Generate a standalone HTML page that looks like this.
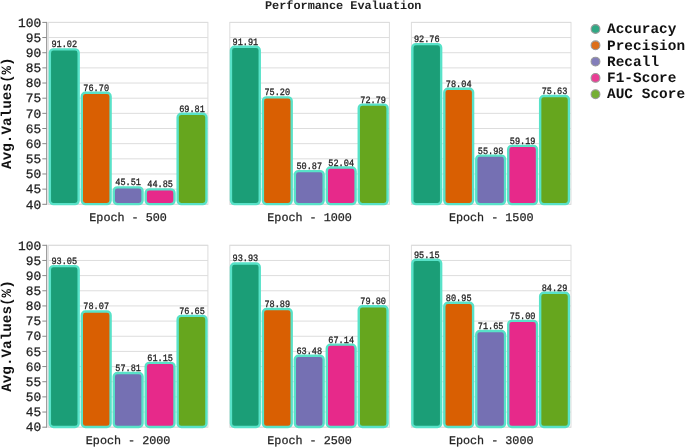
<!DOCTYPE html>
<html><head><meta charset="utf-8"><title>Performance Evaluation</title>
<style>html,body{margin:0;padding:0;background:#fff}svg{display:block}text{font-family:"Liberation Mono",monospace}svg{transform:translateZ(0)}text{text-rendering:geometricPrecision}.t{font-size:12.85px;fill:#222;stroke:#222;stroke-width:0.25px}.v{font-size:9.8px;fill:#222;stroke:#222;stroke-width:0.3px}.x{font-size:11.75px;fill:#222;stroke:#222;stroke-width:0.25px}.l{font-size:14.4px;letter-spacing:0.05px;font-weight:bold;fill:#111}.y{font-size:14.3px;font-weight:bold;fill:#111}</style></head><body>
<svg width="685" height="447" viewBox="0 0 685 447">
<text x="343.2" y="8.6" text-anchor="middle" style="font-size:11.85px;font-weight:bold;fill:#222">Performance Evaluation</text>
<g transform="translate(48.3,22.4)">
<line x1="0" x2="159.6" y1="0.00" y2="0.00" stroke="#ddd" stroke-width="1"/>
<line x1="0" x2="159.6" y1="15.16" y2="15.16" stroke="#ddd" stroke-width="1"/>
<line x1="0" x2="159.6" y1="30.32" y2="30.32" stroke="#ddd" stroke-width="1"/>
<line x1="0" x2="159.6" y1="45.48" y2="45.48" stroke="#ddd" stroke-width="1"/>
<line x1="0" x2="159.6" y1="60.63" y2="60.63" stroke="#ddd" stroke-width="1"/>
<line x1="0" x2="159.6" y1="75.79" y2="75.79" stroke="#ddd" stroke-width="1"/>
<line x1="0" x2="159.6" y1="90.95" y2="90.95" stroke="#ddd" stroke-width="1"/>
<line x1="0" x2="159.6" y1="106.11" y2="106.11" stroke="#ddd" stroke-width="1"/>
<line x1="0" x2="159.6" y1="121.27" y2="121.27" stroke="#ddd" stroke-width="1"/>
<line x1="0" x2="159.6" y1="136.43" y2="136.43" stroke="#ddd" stroke-width="1"/>
<line x1="0" x2="159.6" y1="151.58" y2="151.58" stroke="#ddd" stroke-width="1"/>
<line x1="0" x2="159.6" y1="166.74" y2="166.74" stroke="#ddd" stroke-width="1"/>
<line x1="0" x2="159.6" y1="181.90" y2="181.90" stroke="#ddd" stroke-width="1"/>
<rect x="0" y="0" width="159.6" height="181.9" fill="none" stroke="#ddd" stroke-width="1"/>
<rect x="1.55" y="26.97" width="28.80" height="154.73" rx="3.6" ry="3.6" fill="#1b9e77" stroke="#58e2c8" stroke-width="2.4"/>
<text class="v" transform="translate(15.95,24.92) scale(0.875,1)" text-anchor="middle">91.02</text>
<rect x="33.50" y="70.39" width="28.80" height="111.31" rx="3.6" ry="3.6" fill="#d95f02" stroke="#58e2c8" stroke-width="2.4"/>
<text class="v" transform="translate(47.90,68.34) scale(0.875,1)" text-anchor="middle">76.70</text>
<rect x="65.45" y="164.95" width="28.80" height="16.75" rx="3.6" ry="3.6" fill="#7570b3" stroke="#58e2c8" stroke-width="2.4"/>
<text class="v" transform="translate(79.85,162.90) scale(0.875,1)" text-anchor="middle">45.51</text>
<rect x="97.40" y="166.95" width="28.80" height="14.75" rx="3.6" ry="3.6" fill="#e7298a" stroke="#58e2c8" stroke-width="2.4"/>
<text class="v" transform="translate(111.80,164.90) scale(0.875,1)" text-anchor="middle">44.85</text>
<rect x="129.35" y="91.28" width="28.80" height="90.42" rx="3.6" ry="3.6" fill="#66a61e" stroke="#58e2c8" stroke-width="2.4"/>
<text class="v" transform="translate(143.75,89.23) scale(0.875,1)" text-anchor="middle">69.81</text>
<line x1="-1.6" x2="-1.6" y1="-0.5" y2="182.4" stroke="#888" stroke-width="1"/>
<line x1="-6" x2="-1.6" y1="0.00" y2="0.00" stroke="#888" stroke-width="1"/>
<text class="t" x="-7.2" y="4.25" text-anchor="end">100</text>
<line x1="-6" x2="-1.6" y1="15.16" y2="15.16" stroke="#888" stroke-width="1"/>
<text class="t" x="-7.2" y="19.41" text-anchor="end">95</text>
<line x1="-6" x2="-1.6" y1="30.32" y2="30.32" stroke="#888" stroke-width="1"/>
<text class="t" x="-7.2" y="34.57" text-anchor="end">90</text>
<line x1="-6" x2="-1.6" y1="45.48" y2="45.48" stroke="#888" stroke-width="1"/>
<text class="t" x="-7.2" y="49.73" text-anchor="end">85</text>
<line x1="-6" x2="-1.6" y1="60.63" y2="60.63" stroke="#888" stroke-width="1"/>
<text class="t" x="-7.2" y="64.88" text-anchor="end">80</text>
<line x1="-6" x2="-1.6" y1="75.79" y2="75.79" stroke="#888" stroke-width="1"/>
<text class="t" x="-7.2" y="80.04" text-anchor="end">75</text>
<line x1="-6" x2="-1.6" y1="90.95" y2="90.95" stroke="#888" stroke-width="1"/>
<text class="t" x="-7.2" y="95.20" text-anchor="end">70</text>
<line x1="-6" x2="-1.6" y1="106.11" y2="106.11" stroke="#888" stroke-width="1"/>
<text class="t" x="-7.2" y="110.36" text-anchor="end">65</text>
<line x1="-6" x2="-1.6" y1="121.27" y2="121.27" stroke="#888" stroke-width="1"/>
<text class="t" x="-7.2" y="125.52" text-anchor="end">60</text>
<line x1="-6" x2="-1.6" y1="136.43" y2="136.43" stroke="#888" stroke-width="1"/>
<text class="t" x="-7.2" y="140.68" text-anchor="end">55</text>
<line x1="-6" x2="-1.6" y1="151.58" y2="151.58" stroke="#888" stroke-width="1"/>
<text class="t" x="-7.2" y="155.83" text-anchor="end">50</text>
<line x1="-6" x2="-1.6" y1="166.74" y2="166.74" stroke="#888" stroke-width="1"/>
<text class="t" x="-7.2" y="170.99" text-anchor="end">45</text>
<line x1="-6" x2="-1.6" y1="181.90" y2="181.90" stroke="#888" stroke-width="1"/>
<text class="t" x="-7.2" y="186.15" text-anchor="end">40</text>
<text class="y" transform="translate(-37.0,90.75) rotate(-90)" text-anchor="middle">Avg.Values(%)</text>
<text class="x" x="79.80" y="199.00" text-anchor="middle">Epoch - 500</text>
</g>
<g transform="translate(229.8,22.4)">
<line x1="0" x2="159.6" y1="0.00" y2="0.00" stroke="#ddd" stroke-width="1"/>
<line x1="0" x2="159.6" y1="15.16" y2="15.16" stroke="#ddd" stroke-width="1"/>
<line x1="0" x2="159.6" y1="30.32" y2="30.32" stroke="#ddd" stroke-width="1"/>
<line x1="0" x2="159.6" y1="45.48" y2="45.48" stroke="#ddd" stroke-width="1"/>
<line x1="0" x2="159.6" y1="60.63" y2="60.63" stroke="#ddd" stroke-width="1"/>
<line x1="0" x2="159.6" y1="75.79" y2="75.79" stroke="#ddd" stroke-width="1"/>
<line x1="0" x2="159.6" y1="90.95" y2="90.95" stroke="#ddd" stroke-width="1"/>
<line x1="0" x2="159.6" y1="106.11" y2="106.11" stroke="#ddd" stroke-width="1"/>
<line x1="0" x2="159.6" y1="121.27" y2="121.27" stroke="#ddd" stroke-width="1"/>
<line x1="0" x2="159.6" y1="136.43" y2="136.43" stroke="#ddd" stroke-width="1"/>
<line x1="0" x2="159.6" y1="151.58" y2="151.58" stroke="#ddd" stroke-width="1"/>
<line x1="0" x2="159.6" y1="166.74" y2="166.74" stroke="#ddd" stroke-width="1"/>
<line x1="0" x2="159.6" y1="181.90" y2="181.90" stroke="#ddd" stroke-width="1"/>
<rect x="0" y="0" width="159.6" height="181.9" fill="none" stroke="#ddd" stroke-width="1"/>
<rect x="1.15" y="24.28" width="28.80" height="157.42" rx="3.6" ry="3.6" fill="#1b9e77" stroke="#58e2c8" stroke-width="2.4"/>
<text class="v" transform="translate(15.55,22.23) scale(0.875,1)" text-anchor="middle">91.91</text>
<rect x="33.10" y="74.94" width="28.80" height="106.76" rx="3.6" ry="3.6" fill="#d95f02" stroke="#58e2c8" stroke-width="2.4"/>
<text class="v" transform="translate(47.50,72.89) scale(0.875,1)" text-anchor="middle">75.20</text>
<rect x="65.05" y="148.70" width="28.80" height="33.00" rx="3.6" ry="3.6" fill="#7570b3" stroke="#58e2c8" stroke-width="2.4"/>
<text class="v" transform="translate(79.45,146.65) scale(0.875,1)" text-anchor="middle">50.87</text>
<rect x="97.00" y="145.15" width="28.80" height="36.55" rx="3.6" ry="3.6" fill="#e7298a" stroke="#58e2c8" stroke-width="2.4"/>
<text class="v" transform="translate(111.40,143.10) scale(0.875,1)" text-anchor="middle">52.04</text>
<rect x="128.95" y="82.24" width="28.80" height="99.46" rx="3.6" ry="3.6" fill="#66a61e" stroke="#58e2c8" stroke-width="2.4"/>
<text class="v" transform="translate(143.35,80.19) scale(0.875,1)" text-anchor="middle">72.79</text>
<text class="x" x="79.80" y="199.00" text-anchor="middle">Epoch - 1000</text>
</g>
<g transform="translate(411.4,22.4)">
<line x1="0" x2="159.6" y1="0.00" y2="0.00" stroke="#ddd" stroke-width="1"/>
<line x1="0" x2="159.6" y1="15.16" y2="15.16" stroke="#ddd" stroke-width="1"/>
<line x1="0" x2="159.6" y1="30.32" y2="30.32" stroke="#ddd" stroke-width="1"/>
<line x1="0" x2="159.6" y1="45.48" y2="45.48" stroke="#ddd" stroke-width="1"/>
<line x1="0" x2="159.6" y1="60.63" y2="60.63" stroke="#ddd" stroke-width="1"/>
<line x1="0" x2="159.6" y1="75.79" y2="75.79" stroke="#ddd" stroke-width="1"/>
<line x1="0" x2="159.6" y1="90.95" y2="90.95" stroke="#ddd" stroke-width="1"/>
<line x1="0" x2="159.6" y1="106.11" y2="106.11" stroke="#ddd" stroke-width="1"/>
<line x1="0" x2="159.6" y1="121.27" y2="121.27" stroke="#ddd" stroke-width="1"/>
<line x1="0" x2="159.6" y1="136.43" y2="136.43" stroke="#ddd" stroke-width="1"/>
<line x1="0" x2="159.6" y1="151.58" y2="151.58" stroke="#ddd" stroke-width="1"/>
<line x1="0" x2="159.6" y1="166.74" y2="166.74" stroke="#ddd" stroke-width="1"/>
<line x1="0" x2="159.6" y1="181.90" y2="181.90" stroke="#ddd" stroke-width="1"/>
<rect x="0" y="0" width="159.6" height="181.9" fill="none" stroke="#ddd" stroke-width="1"/>
<rect x="0.95" y="21.70" width="28.80" height="160.00" rx="3.6" ry="3.6" fill="#1b9e77" stroke="#58e2c8" stroke-width="2.4"/>
<text class="v" transform="translate(15.35,19.65) scale(0.875,1)" text-anchor="middle">92.76</text>
<rect x="32.90" y="66.33" width="28.80" height="115.37" rx="3.6" ry="3.6" fill="#d95f02" stroke="#58e2c8" stroke-width="2.4"/>
<text class="v" transform="translate(47.30,64.28) scale(0.875,1)" text-anchor="middle">78.04</text>
<rect x="64.85" y="133.20" width="28.80" height="48.50" rx="3.6" ry="3.6" fill="#7570b3" stroke="#58e2c8" stroke-width="2.4"/>
<text class="v" transform="translate(79.25,131.15) scale(0.875,1)" text-anchor="middle">55.98</text>
<rect x="96.80" y="123.47" width="28.80" height="58.23" rx="3.6" ry="3.6" fill="#e7298a" stroke="#58e2c8" stroke-width="2.4"/>
<text class="v" transform="translate(111.20,121.42) scale(0.875,1)" text-anchor="middle">59.19</text>
<rect x="128.75" y="73.63" width="28.80" height="108.07" rx="3.6" ry="3.6" fill="#66a61e" stroke="#58e2c8" stroke-width="2.4"/>
<text class="v" transform="translate(143.15,71.58) scale(0.875,1)" text-anchor="middle">75.63</text>
<text class="x" x="79.80" y="199.00" text-anchor="middle">Epoch - 1500</text>
</g>
<g transform="translate(48.3,245.3)">
<line x1="0" x2="159.6" y1="0.00" y2="0.00" stroke="#ddd" stroke-width="1"/>
<line x1="0" x2="159.6" y1="15.16" y2="15.16" stroke="#ddd" stroke-width="1"/>
<line x1="0" x2="159.6" y1="30.32" y2="30.32" stroke="#ddd" stroke-width="1"/>
<line x1="0" x2="159.6" y1="45.48" y2="45.48" stroke="#ddd" stroke-width="1"/>
<line x1="0" x2="159.6" y1="60.63" y2="60.63" stroke="#ddd" stroke-width="1"/>
<line x1="0" x2="159.6" y1="75.79" y2="75.79" stroke="#ddd" stroke-width="1"/>
<line x1="0" x2="159.6" y1="90.95" y2="90.95" stroke="#ddd" stroke-width="1"/>
<line x1="0" x2="159.6" y1="106.11" y2="106.11" stroke="#ddd" stroke-width="1"/>
<line x1="0" x2="159.6" y1="121.27" y2="121.27" stroke="#ddd" stroke-width="1"/>
<line x1="0" x2="159.6" y1="136.43" y2="136.43" stroke="#ddd" stroke-width="1"/>
<line x1="0" x2="159.6" y1="151.58" y2="151.58" stroke="#ddd" stroke-width="1"/>
<line x1="0" x2="159.6" y1="166.74" y2="166.74" stroke="#ddd" stroke-width="1"/>
<line x1="0" x2="159.6" y1="181.90" y2="181.90" stroke="#ddd" stroke-width="1"/>
<rect x="0" y="0" width="159.6" height="181.9" fill="none" stroke="#ddd" stroke-width="1"/>
<rect x="1.55" y="20.82" width="28.80" height="160.88" rx="3.6" ry="3.6" fill="#1b9e77" stroke="#58e2c8" stroke-width="2.4"/>
<text class="v" transform="translate(15.95,18.77) scale(0.875,1)" text-anchor="middle">93.05</text>
<rect x="33.50" y="66.23" width="28.80" height="115.47" rx="3.6" ry="3.6" fill="#d95f02" stroke="#58e2c8" stroke-width="2.4"/>
<text class="v" transform="translate(47.90,64.18) scale(0.875,1)" text-anchor="middle">78.07</text>
<rect x="65.45" y="127.66" width="28.80" height="54.04" rx="3.6" ry="3.6" fill="#7570b3" stroke="#58e2c8" stroke-width="2.4"/>
<text class="v" transform="translate(79.85,125.61) scale(0.875,1)" text-anchor="middle">57.81</text>
<rect x="97.40" y="117.53" width="28.80" height="64.17" rx="3.6" ry="3.6" fill="#e7298a" stroke="#58e2c8" stroke-width="2.4"/>
<text class="v" transform="translate(111.80,115.48) scale(0.875,1)" text-anchor="middle">61.15</text>
<rect x="129.35" y="70.54" width="28.80" height="111.16" rx="3.6" ry="3.6" fill="#66a61e" stroke="#58e2c8" stroke-width="2.4"/>
<text class="v" transform="translate(143.75,68.49) scale(0.875,1)" text-anchor="middle">76.65</text>
<line x1="-1.6" x2="-1.6" y1="-0.5" y2="182.4" stroke="#888" stroke-width="1"/>
<line x1="-6" x2="-1.6" y1="0.00" y2="0.00" stroke="#888" stroke-width="1"/>
<text class="t" x="-7.2" y="4.25" text-anchor="end">100</text>
<line x1="-6" x2="-1.6" y1="15.16" y2="15.16" stroke="#888" stroke-width="1"/>
<text class="t" x="-7.2" y="19.41" text-anchor="end">95</text>
<line x1="-6" x2="-1.6" y1="30.32" y2="30.32" stroke="#888" stroke-width="1"/>
<text class="t" x="-7.2" y="34.57" text-anchor="end">90</text>
<line x1="-6" x2="-1.6" y1="45.48" y2="45.48" stroke="#888" stroke-width="1"/>
<text class="t" x="-7.2" y="49.73" text-anchor="end">85</text>
<line x1="-6" x2="-1.6" y1="60.63" y2="60.63" stroke="#888" stroke-width="1"/>
<text class="t" x="-7.2" y="64.88" text-anchor="end">80</text>
<line x1="-6" x2="-1.6" y1="75.79" y2="75.79" stroke="#888" stroke-width="1"/>
<text class="t" x="-7.2" y="80.04" text-anchor="end">75</text>
<line x1="-6" x2="-1.6" y1="90.95" y2="90.95" stroke="#888" stroke-width="1"/>
<text class="t" x="-7.2" y="95.20" text-anchor="end">70</text>
<line x1="-6" x2="-1.6" y1="106.11" y2="106.11" stroke="#888" stroke-width="1"/>
<text class="t" x="-7.2" y="110.36" text-anchor="end">65</text>
<line x1="-6" x2="-1.6" y1="121.27" y2="121.27" stroke="#888" stroke-width="1"/>
<text class="t" x="-7.2" y="125.52" text-anchor="end">60</text>
<line x1="-6" x2="-1.6" y1="136.43" y2="136.43" stroke="#888" stroke-width="1"/>
<text class="t" x="-7.2" y="140.68" text-anchor="end">55</text>
<line x1="-6" x2="-1.6" y1="151.58" y2="151.58" stroke="#888" stroke-width="1"/>
<text class="t" x="-7.2" y="155.83" text-anchor="end">50</text>
<line x1="-6" x2="-1.6" y1="166.74" y2="166.74" stroke="#888" stroke-width="1"/>
<text class="t" x="-7.2" y="170.99" text-anchor="end">45</text>
<line x1="-6" x2="-1.6" y1="181.90" y2="181.90" stroke="#888" stroke-width="1"/>
<text class="t" x="-7.2" y="186.15" text-anchor="end">40</text>
<text class="y" transform="translate(-37.0,90.75) rotate(-90)" text-anchor="middle">Avg.Values(%)</text>
<text class="x" x="79.80" y="199.00" text-anchor="middle">Epoch - 2000</text>
</g>
<g transform="translate(229.8,245.3)">
<line x1="0" x2="159.6" y1="0.00" y2="0.00" stroke="#ddd" stroke-width="1"/>
<line x1="0" x2="159.6" y1="15.16" y2="15.16" stroke="#ddd" stroke-width="1"/>
<line x1="0" x2="159.6" y1="30.32" y2="30.32" stroke="#ddd" stroke-width="1"/>
<line x1="0" x2="159.6" y1="45.48" y2="45.48" stroke="#ddd" stroke-width="1"/>
<line x1="0" x2="159.6" y1="60.63" y2="60.63" stroke="#ddd" stroke-width="1"/>
<line x1="0" x2="159.6" y1="75.79" y2="75.79" stroke="#ddd" stroke-width="1"/>
<line x1="0" x2="159.6" y1="90.95" y2="90.95" stroke="#ddd" stroke-width="1"/>
<line x1="0" x2="159.6" y1="106.11" y2="106.11" stroke="#ddd" stroke-width="1"/>
<line x1="0" x2="159.6" y1="121.27" y2="121.27" stroke="#ddd" stroke-width="1"/>
<line x1="0" x2="159.6" y1="136.43" y2="136.43" stroke="#ddd" stroke-width="1"/>
<line x1="0" x2="159.6" y1="151.58" y2="151.58" stroke="#ddd" stroke-width="1"/>
<line x1="0" x2="159.6" y1="166.74" y2="166.74" stroke="#ddd" stroke-width="1"/>
<line x1="0" x2="159.6" y1="181.90" y2="181.90" stroke="#ddd" stroke-width="1"/>
<rect x="0" y="0" width="159.6" height="181.9" fill="none" stroke="#ddd" stroke-width="1"/>
<rect x="1.15" y="18.15" width="28.80" height="163.55" rx="3.6" ry="3.6" fill="#1b9e77" stroke="#58e2c8" stroke-width="2.4"/>
<text class="v" transform="translate(15.55,16.10) scale(0.875,1)" text-anchor="middle">93.93</text>
<rect x="33.10" y="63.75" width="28.80" height="117.95" rx="3.6" ry="3.6" fill="#d95f02" stroke="#58e2c8" stroke-width="2.4"/>
<text class="v" transform="translate(47.50,61.70) scale(0.875,1)" text-anchor="middle">78.89</text>
<rect x="65.05" y="110.47" width="28.80" height="71.23" rx="3.6" ry="3.6" fill="#7570b3" stroke="#58e2c8" stroke-width="2.4"/>
<text class="v" transform="translate(79.45,108.42) scale(0.875,1)" text-anchor="middle">63.48</text>
<rect x="97.00" y="99.37" width="28.80" height="82.33" rx="3.6" ry="3.6" fill="#e7298a" stroke="#58e2c8" stroke-width="2.4"/>
<text class="v" transform="translate(111.40,97.32) scale(0.875,1)" text-anchor="middle">67.14</text>
<rect x="128.95" y="60.99" width="28.80" height="120.71" rx="3.6" ry="3.6" fill="#66a61e" stroke="#58e2c8" stroke-width="2.4"/>
<text class="v" transform="translate(143.35,58.94) scale(0.875,1)" text-anchor="middle">79.80</text>
<text class="x" x="79.80" y="199.00" text-anchor="middle">Epoch - 2500</text>
</g>
<g transform="translate(411.4,245.3)">
<line x1="0" x2="159.6" y1="0.00" y2="0.00" stroke="#ddd" stroke-width="1"/>
<line x1="0" x2="159.6" y1="15.16" y2="15.16" stroke="#ddd" stroke-width="1"/>
<line x1="0" x2="159.6" y1="30.32" y2="30.32" stroke="#ddd" stroke-width="1"/>
<line x1="0" x2="159.6" y1="45.48" y2="45.48" stroke="#ddd" stroke-width="1"/>
<line x1="0" x2="159.6" y1="60.63" y2="60.63" stroke="#ddd" stroke-width="1"/>
<line x1="0" x2="159.6" y1="75.79" y2="75.79" stroke="#ddd" stroke-width="1"/>
<line x1="0" x2="159.6" y1="90.95" y2="90.95" stroke="#ddd" stroke-width="1"/>
<line x1="0" x2="159.6" y1="106.11" y2="106.11" stroke="#ddd" stroke-width="1"/>
<line x1="0" x2="159.6" y1="121.27" y2="121.27" stroke="#ddd" stroke-width="1"/>
<line x1="0" x2="159.6" y1="136.43" y2="136.43" stroke="#ddd" stroke-width="1"/>
<line x1="0" x2="159.6" y1="151.58" y2="151.58" stroke="#ddd" stroke-width="1"/>
<line x1="0" x2="159.6" y1="166.74" y2="166.74" stroke="#ddd" stroke-width="1"/>
<line x1="0" x2="159.6" y1="181.90" y2="181.90" stroke="#ddd" stroke-width="1"/>
<rect x="0" y="0" width="159.6" height="181.9" fill="none" stroke="#ddd" stroke-width="1"/>
<rect x="0.95" y="14.45" width="28.80" height="167.25" rx="3.6" ry="3.6" fill="#1b9e77" stroke="#58e2c8" stroke-width="2.4"/>
<text class="v" transform="translate(15.35,12.40) scale(0.875,1)" text-anchor="middle">95.15</text>
<rect x="32.90" y="57.50" width="28.80" height="124.20" rx="3.6" ry="3.6" fill="#d95f02" stroke="#58e2c8" stroke-width="2.4"/>
<text class="v" transform="translate(47.30,55.45) scale(0.875,1)" text-anchor="middle">80.95</text>
<rect x="64.85" y="85.70" width="28.80" height="96.00" rx="3.6" ry="3.6" fill="#7570b3" stroke="#58e2c8" stroke-width="2.4"/>
<text class="v" transform="translate(79.25,83.65) scale(0.875,1)" text-anchor="middle">71.65</text>
<rect x="96.80" y="75.54" width="28.80" height="106.16" rx="3.6" ry="3.6" fill="#e7298a" stroke="#58e2c8" stroke-width="2.4"/>
<text class="v" transform="translate(111.20,73.49) scale(0.875,1)" text-anchor="middle">75.00</text>
<rect x="128.75" y="47.38" width="28.80" height="134.32" rx="3.6" ry="3.6" fill="#66a61e" stroke="#58e2c8" stroke-width="2.4"/>
<text class="v" transform="translate(143.15,45.33) scale(0.875,1)" text-anchor="middle">84.29</text>
<text class="x" x="79.80" y="199.00" text-anchor="middle">Epoch - 3000</text>
</g>
<circle cx="595.5" cy="29.00" r="4.4" fill="#1b9e77" fill-opacity="0.9" stroke="#999" stroke-width="1.1"/>
<text class="l" x="607" y="33.25">Accuracy</text>
<circle cx="595.5" cy="45.30" r="4.4" fill="#d95f02" fill-opacity="0.9" stroke="#999" stroke-width="1.1"/>
<text class="l" x="607" y="49.55">Precision</text>
<circle cx="595.5" cy="61.60" r="4.4" fill="#7570b3" fill-opacity="0.9" stroke="#999" stroke-width="1.1"/>
<text class="l" x="607" y="65.85">Recall</text>
<circle cx="595.5" cy="77.90" r="4.4" fill="#e7298a" fill-opacity="0.9" stroke="#999" stroke-width="1.1"/>
<text class="l" x="607" y="82.15">F1-Score</text>
<circle cx="595.5" cy="94.20" r="4.4" fill="#66a61e" fill-opacity="0.9" stroke="#999" stroke-width="1.1"/>
<text class="l" x="607" y="98.45">AUC Score</text>
</svg></body></html>
